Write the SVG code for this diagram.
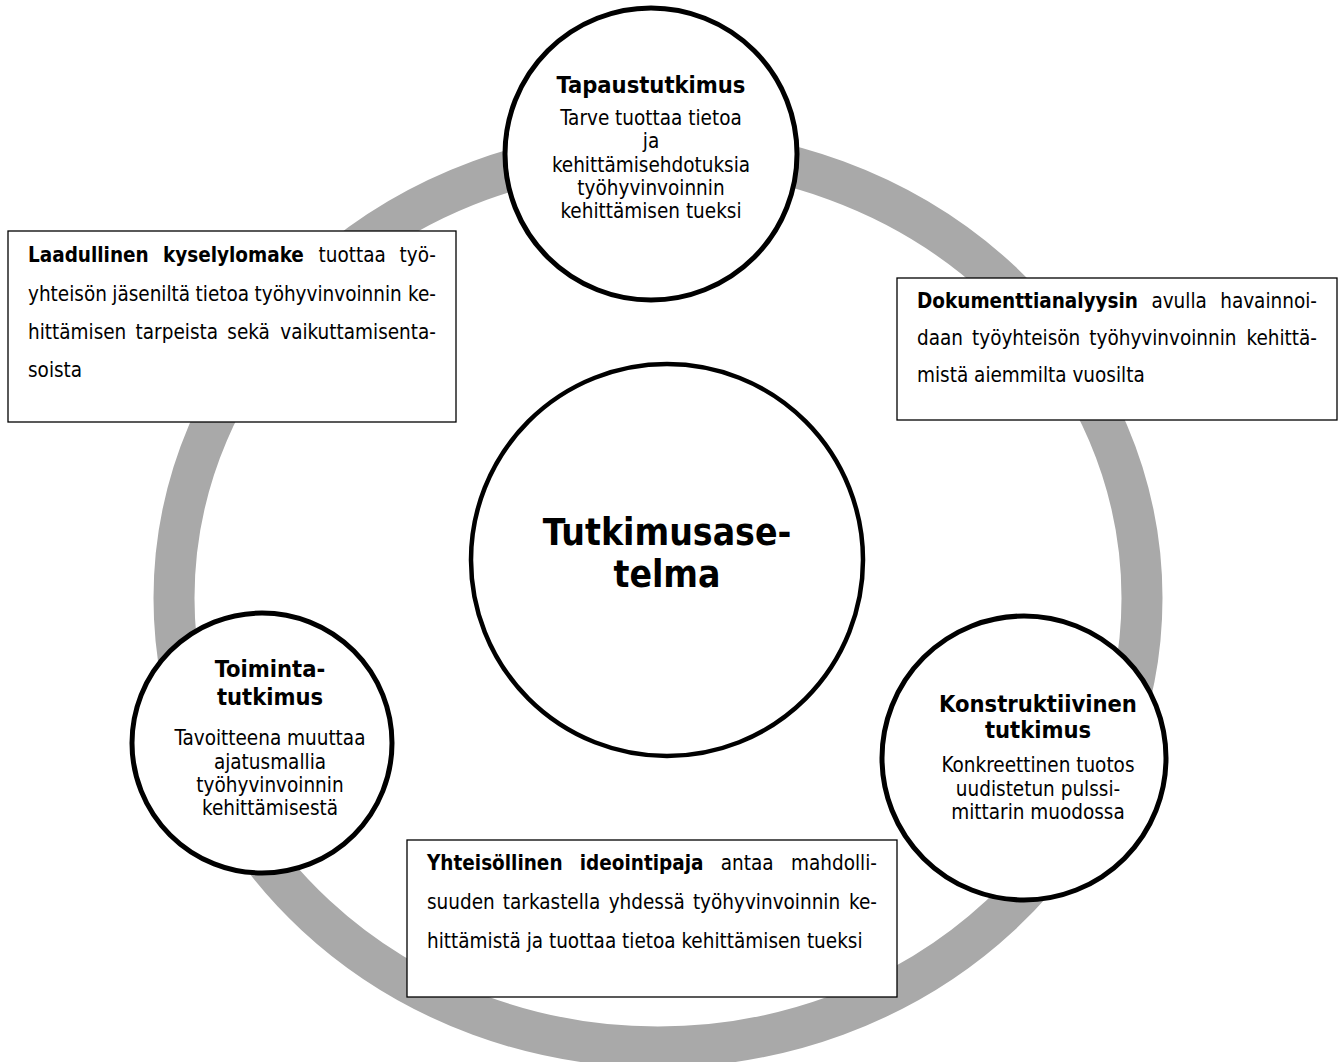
<svg xmlns="http://www.w3.org/2000/svg" width="1339" height="1062" viewBox="0 0 1339 1062">
<style>
.ring{fill:none;stroke:#a9a9a9;stroke-width:41}
.node{fill:#fff;stroke:#000;stroke-width:5}
.box{fill:#fff;stroke:#000;stroke-width:1.3}
text{font-family:"DejaVu Sans Condensed","DejaVu Sans",sans-serif;font-stretch:condensed;fill:#000}
.t{font-size:20.5px}
.b{font-weight:bold}
.c{text-anchor:middle}
.e{text-anchor:end}
.h{font-size:23.5px;font-weight:bold;text-anchor:middle}
.big{font-size:37px;font-weight:bold;text-anchor:middle}
</style>
<rect width="1339" height="1062" fill="#fff"/>
<g id="connectors">
<ellipse class="ring" cx="658" cy="598" rx="484" ry="449"/>
</g>
<g id="center">
<circle class="node" cx="667" cy="560" r="196" style="stroke-width:4.5"/>
<text class="big" x="667" y="545">Tutkimusase-</text>
<text class="big" x="667" y="587">telma</text>
</g>
<g id="box-kyselylomake">
<rect class="box" x="8" y="231" width="448" height="191"/>
<text class="t b" x="28" y="262">Laadullinen</text>
<text class="t b" x="162.9" y="262">kyselylomake</text>
<text class="t" x="318.6" y="262">tuottaa</text>
<text class="t e" x="436" y="262">työ-</text>
<text class="t" y="301"><tspan x="28">yhteisön</tspan><tspan x="112.3">jäseniltä</tspan><tspan x="195.6">tietoa</tspan><tspan x="254.5">työhyvinvoinnin</tspan></text>
<text class="t e" x="436" y="301">ke-</text>
<text class="t" y="339"><tspan x="28">hittämisen</tspan><tspan x="135.6">tarpeista</tspan><tspan x="227.3">sekä</tspan></text>
<text class="t e" x="436" y="339">vaikuttamisenta-</text>
<text class="t" x="28" y="377">soista</text>
</g>
<g id="box-dokumenttianalyysi">
<rect class="box" x="897" y="278" width="440" height="142"/>
<text class="t b" x="917" y="308">Dokumenttianalyysin</text>
<text class="t" x="1151.4" y="308">avulla</text>
<text class="t e" x="1317" y="308">havainnoi-</text>
<text class="t" y="345"><tspan x="917">daan</tspan><tspan x="972">työyhteisön</tspan><tspan x="1089.3">työhyvinvoinnin</tspan></text>
<text class="t e" x="1317" y="345">kehittä-</text>
<text class="t" x="917" y="382">mistä aiemmilta vuosilta</text>
</g>
<g id="box-ideointipaja">
<rect class="box" x="407" y="840" width="490" height="157"/>
<text class="t b" x="427" y="870">Yhteisöllinen</text>
<text class="t b" x="579.8" y="870">ideointipaja</text>
<text class="t" x="720.8" y="870">antaa</text>
<text class="t e" x="877" y="870">mahdolli-</text>
<text class="t" y="909"><tspan x="427">suuden</tspan><tspan x="502.8">tarkastella</tspan><tspan x="608.7">yhdessä</tspan><tspan x="692.9">työhyvinvoinnin</tspan></text>
<text class="t e" x="877" y="909">ke-</text>
<text class="t" x="427" y="948">hittämistä ja tuottaa tietoa kehittämisen tueksi</text>
</g>
<g id="tapaustutkimus">
<circle class="node" cx="651" cy="154" r="146"/>
<text class="h" x="651" y="93">Tapaustutkimus</text>
<text class="t c" x="651" y="125">Tarve tuottaa tietoa</text>
<text class="t c" x="651" y="148">ja</text>
<text class="t c" x="651" y="171.5">kehittämisehdotuksia</text>
<text class="t c" x="651" y="195">työhyvinvoinnin</text>
<text class="t c" x="651" y="218">kehittämisen tueksi</text>
</g>
<g id="toimintatutkimus">
<circle class="node" cx="262" cy="743" r="130"/>
<text class="h" x="270" y="677">Toiminta-</text>
<text class="h" x="270" y="705">tutkimus</text>
<text class="t c" x="270" y="745">Tavoitteena muuttaa</text>
<text class="t c" x="270" y="768.5">ajatusmallia</text>
<text class="t c" x="270" y="792">työhyvinvoinnin</text>
<text class="t c" x="270" y="815">kehittämisestä</text>
</g>
<g id="konstruktiivinen">
<circle class="node" cx="1024" cy="758" r="142"/>
<text class="h" x="1038" y="712">Konstruktiivinen</text>
<text class="h" x="1038" y="738">tutkimus</text>
<text class="t c" x="1038" y="772">Konkreettinen tuotos</text>
<text class="t c" x="1038" y="795.5">uudistetun pulssi-</text>
<text class="t c" x="1038" y="819">mittarin muodossa</text>
</g>
</svg>
